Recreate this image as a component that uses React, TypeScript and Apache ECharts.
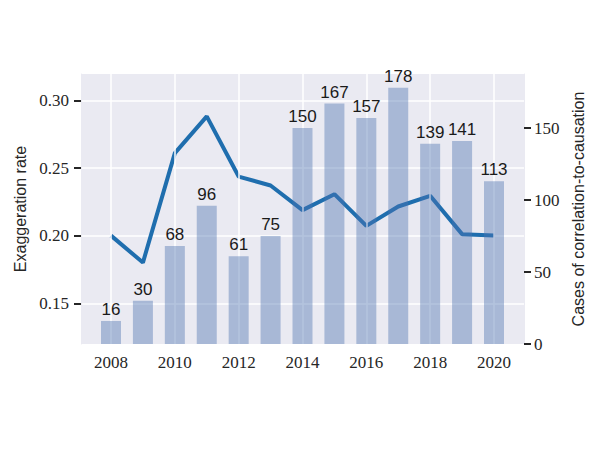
import React, { useEffect, useRef } from "react";
import * as echarts from "echarts";

const years = [2008, 2009, 2010, 2011, 2012, 2013, 2014, 2015, 2016, 2017, 2018, 2019, 2020];
const exaggerationRate = [0.2002, 0.1803, 0.2611, 0.2882, 0.2438, 0.2372, 0.219, 0.2308, 0.2074, 0.2217, 0.2296, 0.2013, 0.2002];
const cases = [16, 30, 68, 96, 61, 75, 150, 167, 157, 178, 139, 141, 113];
const xTicks = [2008, 2010, 2012, 2014, 2016, 2018, 2020];
const leftTicks = [0.15, 0.2, 0.25, 0.3];

export default function App() {
  const ref = useRef<HTMLDivElement>(null);
  useEffect(() => {
    if (!ref.current) return;
    const chart = echarts.init(ref.current, null, { renderer: "svg" });
    const serif = "Liberation Serif";
    const sans = "Liberation Sans";
    chart.setOption({
      animation: false,
      backgroundColor: "#ffffff",
      grid: {
        show: true,
        z: 0,
        left: 81,
        top: 74,
        right: 78,
        bottom: 107,
        backgroundColor: "#EAEAF2",
        borderWidth: 0,
      },
      xAxis: {
        type: "value",
        z: 3,
        min: 2007.06,
        max: 2020.94,
        axisLine: { show: false },
        axisTick: { show: false, customValues: xTicks },
        axisLabel: {
          customValues: xTicks,
          margin: 10,
          fontFamily: serif,
          fontSize: 17,
          color: "#262626",
          formatter: (v: number) => String(Math.round(v)),
        },
        splitLine: { show: true, lineStyle: { color: "#ffffff", width: 1.5 } },
      },
      yAxis: [
        {
          type: "value",
          z: 1,
          position: "left",
          min: 0.1202,
          max: 0.3195,
          name: "Exaggeration rate",
          nameLocation: "middle",
          nameGap: 49,
          nameTextStyle: { fontFamily: sans, fontSize: 16, color: "#262626" },
          axisLine: { show: true, lineStyle: { color: "#EAEAF2" } },
          axisTick: { show: true, inside: false, customValues: leftTicks, length: 7, lineStyle: { color: "#262626", width: 2 } },
          axisLabel: {
            customValues: leftTicks,
            margin: 12,
            fontFamily: serif,
            fontSize: 17,
            color: "#262626",
            formatter: (v: number) => v.toFixed(2),
          },
          splitLine: { show: true, lineStyle: { color: "#ffffff", width: 1.5 } },
        },
        {
          type: "value",
          z: 4,
          position: "right",
          min: 0,
          max: 187.5,
          interval: 50,
          name: "Cases of correlation-to-causation",
          nameLocation: "middle",
          nameGap: 38,
          nameTextStyle: { fontFamily: sans, fontSize: 16, color: "#262626" },
          axisLine: { show: true, lineStyle: { color: "#EAEAF2" } },
          axisTick: { show: true, inside: false, length: 7, lineStyle: { color: "#262626", width: 2 } },
          axisLabel: {
            margin: 10,
            fontFamily: serif,
            fontSize: 17,
            color: "#262626",
            showMaxLabel: false,
          },
          splitLine: { show: false },
        },
      ],
      series: [
        {
          type: "line",
          z: 2,
          yAxisIndex: 0,
          data: years.map((y, i) => [y, exaggerationRate[i]]),
          symbol: "none",
          lineStyle: { color: "#1f6eae", width: 4 },
        },
        {
          type: "bar",
          z: 4,
          yAxisIndex: 1,
          barWidth: 20,
          data: years.map((y, i) => [y, cases[i]]),
          itemStyle: { color: "rgba(76,114,176,0.42)" },
          label: {
            show: true,
            position: "top",
            distance: 3,
            fontFamily: sans,
            fontSize: 17,
            color: "#1a1a1a",
            formatter: (p: any) => String(p.value[1]),
          },
        },
      ],
    });
    return () => chart.dispose();
  }, []);
  return <div ref={ref} style={{ position: "absolute", left: 0, top: 0, width: 602, height: 451 }} />;
}
